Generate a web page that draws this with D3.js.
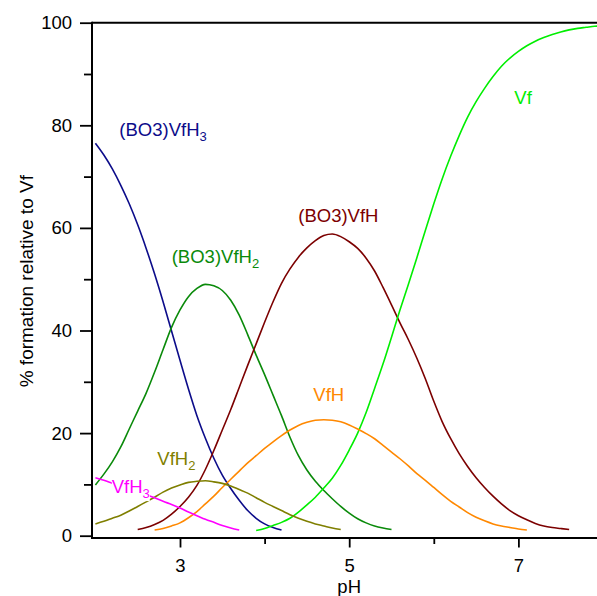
<!DOCTYPE html>
<html><head><meta charset="utf-8">
<script src="https://cdn.jsdelivr.net/npm/d3@7"></script>
<style>body{margin:0;background:#fff} svg{display:block} text{font-family:"Liberation Sans",Arial,Helvetica,sans-serif}</style>
</head><body><svg id="c" width="597" height="596"></svg>
<script>
// ---------- data ----------
const phBO3VfH3 = [2.0,2.1,2.2,2.3,2.4,2.5,2.6,2.7,2.8,2.9,3.0,3.1,3.2,3.3,3.4,3.5,3.6,3.7,3.8,3.9,4.0,4.1,4.2];
const valBO3VfH3 = [76.5,74.2,71.5,68.3,64.7,60.6,56.0,51.0,45.6,39.9,34.2,28.6,23.4,19.0,15.1,11.8,9.2,6.9,4.9,3.4,2.3,1.6,1.1];

const phBO3VfH2 = [2.0,2.1,2.2,2.3,2.4,2.5,2.6,2.7,2.8,2.9,3.0,3.1,3.2,3.3,3.4,3.5,3.6,3.7,3.8,3.9,4.0,4.1,4.2,4.3,4.4,4.5,4.6,4.7,4.8,4.9,5.0,5.1,5.2,5.3,5.4,5.5];
const valBO3VfH2 = [9.9,12.0,14.4,17.3,20.8,24.3,27.8,31.9,36.3,40.6,44.0,46.6,48.2,49.0,48.7,47.8,45.9,43.0,39.2,35.2,31.4,27.4,23.4,19.2,15.6,12.8,10.6,8.8,7.2,5.7,4.4,3.3,2.5,1.9,1.5,1.2];

const phBO3VfH = [2.5,2.6,2.7,2.8,2.9,3.0,3.1,3.2,3.3,3.4,3.5,3.6,3.7,3.8,3.9,4.0,4.1,4.2,4.3,4.4,4.5,4.6,4.7,4.8,4.9,5.0,5.1,5.2,5.3,5.4,5.5,5.6,5.7,5.8,5.9,6.0,6.1,6.2,6.3,6.4,6.5,6.6,6.7,6.8,6.9,7.0,7.1,7.2,7.3,7.4,7.5,7.6];
const valBO3VfH = [1.2,1.6,2.2,3.0,4.2,5.7,7.5,9.8,12.9,16.6,20.6,24.6,28.9,33.2,37.4,41.6,45.6,49.2,52.0,54.3,56.1,57.5,58.5,58.8,58.3,57.3,56.0,54.1,51.6,48.4,45.0,41.5,38.2,34.6,30.6,26.2,22.2,18.9,16.0,13.5,11.3,9.4,7.7,6.2,4.9,3.9,3.1,2.4,1.9,1.6,1.4,1.2];

const phVf = [3.9,4.0,4.1,4.2,4.3,4.4,4.5,4.6,4.7,4.8,4.9,5.0,5.1,5.2,5.3,5.4,5.5,5.6,5.7,5.8,5.9,6.0,6.1,6.2,6.3,6.4,6.5,6.6,6.7,6.8,6.9,7.0,7.1,7.2,7.3,7.4,7.5,7.6,7.7,7.8,7.9,8.0];
const valVf = [1.0,1.4,2.0,2.6,3.4,4.6,6.0,7.5,9.3,11.2,13.7,16.7,20.0,24.0,28.7,33.5,38.7,44.0,49.0,54.2,59.5,64.7,69.6,74.0,78.0,81.6,84.6,87.2,89.5,91.5,93.1,94.4,95.5,96.4,97.1,97.7,98.2,98.6,98.9,99.1,99.3,99.4];

const phVfH = [2.7,2.8,2.9,3.0,3.1,3.2,3.3,3.4,3.5,3.6,3.7,3.8,3.9,4.0,4.1,4.2,4.3,4.4,4.5,4.6,4.7,4.8,4.9,5.0,5.1,5.2,5.3,5.4,5.5,5.6,5.7,5.8,5.9,6.0,6.1,6.2,6.3,6.4,6.5,6.6,6.7,6.8,6.9,7.0,7.1];
const valVfH = [1.1,1.4,1.9,2.5,3.5,4.7,6.2,7.7,9.4,11.0,12.6,14.2,15.6,17.0,18.3,19.5,20.6,21.5,22.1,22.5,22.6,22.5,22.2,21.6,20.8,19.9,18.9,17.6,16.3,15.0,13.6,12.1,10.8,9.4,8.0,6.7,5.6,4.5,3.6,2.9,2.3,1.9,1.6,1.3,1.1];

const phVfH2 = [2.0,2.1,2.2,2.3,2.4,2.5,2.6,2.7,2.8,2.9,3.0,3.1,3.2,3.3,3.4,3.5,3.6,3.7,3.8,3.9,4.0,4.1,4.2,4.3,4.4,4.5,4.6,4.7,4.8,4.9];
const valVfH2 = [2.3,2.8,3.4,4.0,4.8,5.7,6.6,7.5,8.5,9.3,9.9,10.4,10.6,10.7,10.5,10.2,9.7,9.0,8.3,7.4,6.5,5.7,4.9,4.1,3.4,2.8,2.3,1.9,1.5,1.2];

const phVfH3 = [2.0,2.1,2.2,2.3,2.4,2.5,2.6,2.7,2.8,2.9,3.0,3.1,3.2,3.3,3.4,3.5,3.6,3.7];
const valVfH3 = [11.3,10.8,10.2,9.6,9.0,8.5,8.0,7.4,6.7,6.1,5.4,4.6,3.9,3.2,2.6,2.0,1.5,1.1];

const seriesNames = ["(BO3)VfH3","(BO3)VfH2","(BO3)VfH","Vf","VfH","VfH2","VfH3"];
const labelMain = ["(BO3)VfH","(BO3)VfH","(BO3)VfH","Vf","VfH","VfH","VfH"];
const labelSub  = ["3","2","","","","2","3"];
const xTickLabels = ["3","5","7"];
const yTickLabels = ["0","20","40","60","80","100"];

// ---------- layout / style ----------
const colors = ["#0c0c8a","#0a8a0a","#7c0000","#00ee00","#ff8800","#7f7f00","#ff00ff"];
const labelAt = [[2.283,77.9],[2.902,53.2],[4.398,61.2],[6.952,84.2],[4.576,26.3],[2.732,13.8],[2.193,8.3]]; // label anchor in data units
const phs = [phBO3VfH3,phBO3VfH2,phBO3VfH,phVf,phVfH,phVfH2,phVfH3];
const vals = [valBO3VfH3,valBO3VfH2,valBO3VfH,valVf,valVfH,valVfH2,valVfH3];

const W = 597, H = 596, FS = 18.5;
const axisLeftX = 92, axisBottomY = 538, frameTop = 22.7;
const x = d3.scaleLinear().domain([2, 8]).range([95.4, 603]);
const y = d3.scaleLinear().domain([0, 100]).range([535.7, 22.7]);

const svg = d3.select("#c");
svg.append("rect").attr("width", W).attr("height", H).attr("fill", "#fff");

svg.append("defs").append("clipPath").attr("id","plot")
  .append("rect").attr("x", axisLeftX).attr("y", 0).attr("width", W - axisLeftX).attr("height", axisBottomY);

// curves
const line = d3.line().x(d => x(d[0])).y(d => y(d[1])).curve(d3.curveMonotoneX);
const gLines = svg.append("g").attr("clip-path","url(#plot)");
seriesNames.forEach((name, i) => {
  gLines.append("path")
    .datum(d3.zip(phs[i], vals[i]))
    .attr("d", line)
    .attr("fill", "none")
    .attr("stroke", colors[i])
    .attr("stroke-width", 1.6)
    .attr("stroke-linejoin", "round");
});

// labels (with white background like the original annotation boxes)
seriesNames.forEach((name, i) => {
  const g = svg.append("g");
  const t = g.append("text")
    .attr("x", x(labelAt[i][0])).attr("y", y(labelAt[i][1]))
    .attr("fill", colors[i]).attr("font-size", FS);
  t.append("tspan").text(labelMain[i]);
  if (labelSub[i]) t.append("tspan").attr("dy", 5).attr("font-size", 13).text(labelSub[i]);
  const bb = t.node().getBBox();
  g.insert("rect", "text").attr("x", bb.x).attr("y", bb.y + 2).attr("width", bb.width).attr("height", bb.height - 2).attr("fill", "#fff");
});

// y axis
const yMajor = yTickLabels.map(Number);
const gy = svg.append("g").attr("transform", `translate(${axisLeftX},0)`);
gy.call(d3.axisLeft(y).tickValues(yMajor).tickFormat((d, i) => yTickLabels[i]).tickSize(12).tickSizeOuter(0).tickPadding(8));
gy.append("g").call(d3.axisLeft(y).tickValues([10,30,50,70,90]).tickFormat("").tickSize(8).tickSizeOuter(0));
gy.selectAll(".domain").remove();
gy.selectAll("line").attr("stroke", "#000").attr("stroke-width", 1.8);
gy.selectAll("text").attr("font-size", FS).attr("fill", "#000").attr("font-family", "Liberation Sans, Arial, sans-serif");

// x axis
const xMajor = xTickLabels.map(Number);
const gx = svg.append("g").attr("transform", `translate(0,${axisBottomY})`);
gx.call(d3.axisBottom(x).tickValues(xMajor).tickFormat((d, i) => xTickLabels[i]).tickSize(9.5).tickSizeOuter(0).tickPadding(11));
gx.append("g").call(d3.axisBottom(x).tickValues([4,6]).tickFormat("").tickSize(6).tickSizeOuter(0));
gx.selectAll(".domain").remove();
gx.selectAll("line").attr("stroke", "#000").attr("stroke-width", 1.8);
gx.selectAll("text").attr("font-size", FS).attr("fill", "#000").attr("font-family", "Liberation Sans, Arial, sans-serif");

// axis lines / frame
svg.append("line").attr("x1", axisLeftX).attr("x2", axisLeftX).attr("y1", frameTop - 1).attr("y2", axisBottomY + 1)
  .attr("stroke", "#000").attr("stroke-width", 2);
svg.append("line").attr("x1", axisLeftX - 1).attr("x2", W).attr("y1", axisBottomY).attr("y2", axisBottomY)
  .attr("stroke", "#000").attr("stroke-width", 2);
svg.append("line").attr("x1", axisLeftX).attr("x2", W).attr("y1", frameTop).attr("y2", frameTop)
  .attr("stroke", "#000").attr("stroke-width", 2);

// axis titles
svg.append("text").attr("x", x(5)).attr("y", 593).attr("text-anchor", "middle")
  .attr("font-size", FS).attr("fill", "#000").text("pH");
svg.append("text").attr("transform", `translate(33,${(535.7 + 22.7) / 2 + 2}) rotate(-90)`).attr("text-anchor", "middle")
  .attr("font-size", 19).attr("fill", "#000").text("% formation relative to Vf");
</script>
</body></html>
